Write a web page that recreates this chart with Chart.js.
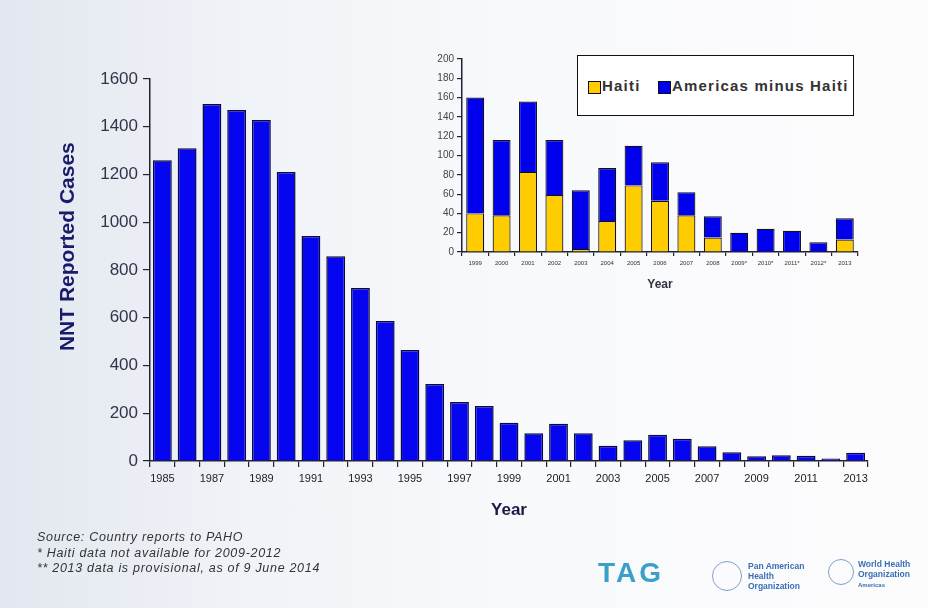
<!DOCTYPE html>
<html>
<head>
<meta charset="utf-8">
<script src="https://cdn.jsdelivr.net/npm/chart.js@4"></script>
<style>
  html, body { margin:0; padding:0; }
  body { width:928px; height:608px; position:relative; overflow:hidden;
    font-family: "Liberation Sans", Arial, sans-serif;
    background: linear-gradient(to right, #e2e7ef 0%, #eff2f7 25%, #f8f9fb 55%, #fcfcfd 100%); }
  #main { position:absolute; left:0; top:0; }
  #inset { position:absolute; left:420px; top:45px; }
  #legend { position:absolute; left:577px; top:55px; width:275px; height:59px;
    border:1.5px solid #111; background:#fff; box-sizing:content-box; }
  .lg { position:absolute; top:25px; width:11px; height:11px; border:1px solid #111; }
  .lt { position:absolute; top:21px; font-size:15px; font-weight:bold; letter-spacing:1.2px; color:#333; white-space:nowrap; }
  #notes { position:absolute; left:37px; top:530px; font-size:12.5px; letter-spacing:0.7px; font-style:italic; color:#333; line-height:15.5px; }
  .logo { position:absolute; color:#3a6fb5; font-size:8.5px; line-height:10px; font-weight:bold; }
  .circ { position:absolute; border:1.5px solid #7aa0cc; border-radius:50%; }
</style>
</head>
<body>
<canvas id="main" width="928" height="608"></canvas>
<canvas id="inset" width="450" height="250"></canvas>
<div id="legend">
  <div class="lg" style="left:10px;background:#ffcc00;"></div>
  <div class="lt" style="left:24px;">Haiti</div>
  <div class="lg" style="left:80px;background:#0000ee;"></div>
  <div class="lt" style="left:94px;">Americas minus Haiti</div>
</div>
<div id="notes">
  Source: Country reports to PAHO<br>
  * Haiti data not available for 2009-2012<br>
  ** 2013 data is provisional, as of 9 June 2014
</div>
<div class="logo" style="left:598px;top:558px;font-size:28px;line-height:30px;color:#3aa0c8;letter-spacing:3px;">TAG</div>
<div class="circ" style="left:712px;top:561px;width:28px;height:28px;"></div>
<div class="logo" style="left:748px;top:561px;">Pan American<br>Health<br>Organization</div>
<div class="circ" style="left:828px;top:559px;width:24px;height:24px;"></div>
<div class="logo" style="left:858px;top:559px;">World Health<br>Organization<br><span style="font-size:6px">Americas</span></div>
<script>
// ---- Main chart data ----
const years = ['1985','1986','1987','1988','1989','1990','1991','1992','1993','1994','1995','1996','1997','1998','1999','2000','2001','2002','2003','2004','2005','2006','2007','2008','2009','2010','2011','2012','2013'];
const cases = [1260,1310,1495,1470,1428,1210,942,858,725,586,465,322,247,230,160,116,156,116,64,87,110,93,62,37,20,24,22,10,35];
const mainTicks = [0,200,400,600,800,1000,1200,1400,1600];

// ---- Inset data ----
const insetYears = ['1999','2000','2001','2002','2003','2004','2005','2006','2007','2008','2009*','2010*','2011*','2012*','2013'];
const haiti = [40,38,83,59,3,32,69,53,38,15,0,0,0,0,13];
const americasMinusHaiti = [120,78,73,57,61,55,41,40,24,22,20,24,22,10,22];
const insetTicks = [0,20,40,60,80,100,120,140,160,180,200];

const axisCol = '#222233';
Chart.defaults.font.family = '"Liberation Sans", Arial, sans-serif';
Chart.defaults.animation = false;

new Chart(document.getElementById('main'), {
  type: 'bar',
  data: { labels: years, datasets: [{ label: 'NNT Reported Cases', data: cases,
    backgroundColor: '#0505f0', borderColor: '#0a0a40', borderWidth: 1.5,
    barPercentage: 0.76, categoryPercentage: 1.0 }] },
  options: {
    responsive: false,
    layout: { padding: { left: 40, top: 79, right: 60, bottom: 77 } },
    plugins: { legend: { display: false }, tooltip: { enabled: false } },
    scales: {
      x: {
        grid: { display: true, drawOnChartArea: false, drawTicks: true, tickLength: 6, color: axisCol, lineWidth: 1.2, offset: true },
        border: { display: true, color: axisCol, width: 1.5 },
        ticks: { autoSkip: false, maxRotation: 0, minRotation: 0, padding: 5, color: '#222',
          font: { size: 11 },
          callback: function(v, i) { return i % 2 === 0 ? this.getLabelForValue(v) : ''; } },
        title: { display: true, text: 'Year', color: '#1a1a44', font: { size: 17, weight: 'bold' }, padding: { top: 0, bottom: 10 } },
        afterFit: s => { s.height = 70; }
      },
      y: {
        min: 0, max: 1600,
        afterBuildTicks: s => { s.ticks = mainTicks.map(v => ({ value: v })); },
        grid: { display: true, drawOnChartArea: false, drawTicks: true, tickLength: 7, color: axisCol, lineWidth: 1.2 },
        border: { display: true, color: axisCol, width: 1.5 },
        ticks: { padding: 5, color: '#33334a', font: { size: 17 }, callback: v => String(v) },
        title: { display: true, text: '        NNT Reported Cases', color: '#1a1a6a', font: { size: 21, weight: 'bold' }, padding: { top: 16, bottom: 0 } },
        afterFit: s => { s.width = 110; }
      }
    }
  }
});

new Chart(document.getElementById('inset'), {
  type: 'bar',
  data: { labels: insetYears, datasets: [
    { label: 'Haiti', data: haiti, backgroundColor: '#ffcc00', borderColor: '#111', borderWidth: 1.2, barPercentage: 0.68, categoryPercentage: 1.0 },
    { label: 'Americas minus Haiti', data: americasMinusHaiti, backgroundColor: '#0000ee', borderColor: '#111', borderWidth: 1.2, barPercentage: 0.68, categoryPercentage: 1.0 }
  ] },
  options: {
    responsive: false,
    layout: { padding: { left: 0, top: 14, right: 12, bottom: 0 } },
    plugins: { legend: { display: false }, tooltip: { enabled: false } },
    scales: {
      x: {
        stacked: true,
        grid: { display: true, drawOnChartArea: false, drawTicks: true, tickLength: 4, color: axisCol, lineWidth: 1.2, offset: true },
        border: { display: true, color: axisCol, width: 1.5 },
        ticks: { autoSkip: false, maxRotation: 0, minRotation: 0, padding: 4, color: '#333', font: { size: 6 } },
        title: { display: true, text: 'Year', color: '#333344', font: { size: 12, weight: 'bold' }, padding: { top: 0, bottom: 3 } },
        afterFit: s => { s.height = 43; }
      },
      y: {
        stacked: true, min: 0, max: 200,
        afterBuildTicks: s => { s.ticks = insetTicks.map(v => ({ value: v })); },
        grid: { display: true, drawOnChartArea: false, drawTicks: true, tickLength: 5, color: axisCol, lineWidth: 1.2 },
        border: { display: true, color: axisCol, width: 1.5 },
        ticks: { padding: 3, color: '#444', font: { size: 10 } },
        afterFit: s => { s.width = 42; }
      }
    }
  }
});
</script>
</body>
</html>
